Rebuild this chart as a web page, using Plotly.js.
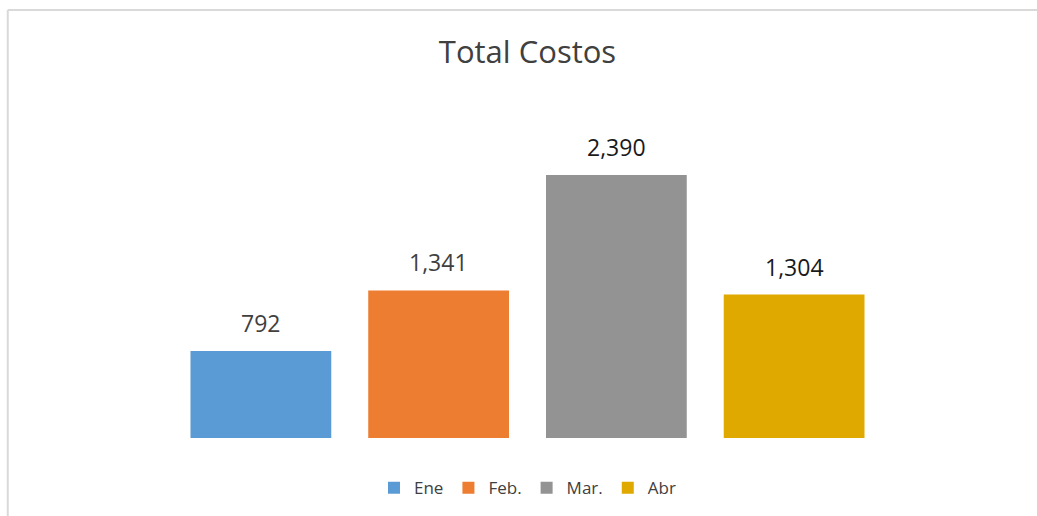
<!DOCTYPE html>
<html>
<head>
<meta charset="utf-8">
<script src="https://cdn.plot.ly/plotly-3.0.1.min.js"></script>
<style>
  html, body { margin: 0; padding: 0; background: #fff; }
  #chart { width: 1037px; height: 516px; }
</style>
</head>
<body>
<div id="chart"></div>
<script>
/* Total Costos — one bar per month, Excel-like look */

const MONTHS = ["Ene", "Feb.", "Mar.", "Abr"];
const COSTS = [792, 1341, 2390, 1304];
const COLORS = ["#5B9BD5", "#ED7D31", "#939393", "#E0A900"];
const LABEL_COLORS = ["#404040", "#404040", "#1a1a1a", "#1a1a1a"];

const FONT = "'Open Sans', 'DejaVu Sans', sans-serif";

const traces = MONTHS.map((m, i) => ({
  type: "bar",
  name: m,
  x: [m],
  y: [COSTS[i]],
  marker: { color: COLORS[i] },
  hoverinfo: "name+y"
}));

// value labels sit above each bar
const labels = MONTHS.map((m, i) => ({
  x: m,
  y: COSTS[i],
  xref: "x",
  yref: "y",
  text: COSTS[i].toLocaleString("en-US"),
  showarrow: false,
  yanchor: "bottom",
  yshift: 10,
  font: { family: FONT, size: 23, color: LABEL_COLORS[i] }
}));

// grey frame lines (top and left) like the Excel chart border
const frame = [
  { type: "line", xref: "paper", yref: "paper", x0: -0.231, x1: 1.3, y0: 1.390, y1: 1.390,
    line: { color: "#d9d9d9", width: 2 } },
  { type: "line", xref: "paper", yref: "paper", x0: -0.231, x1: -0.231, y0: 1.390, y1: -0.4,
    line: { color: "#d9d9d9", width: 2 } }
];

const layout = {
  width: 1037,
  height: 516,
  margin: { l: 171.5, r: 153.5, t: 130, b: 78 },
  paper_bgcolor: "#fff",
  plot_bgcolor: "#fff",
  font: { family: FONT, color: "#404040" },
  title: {
    text: "Total Costos",
    font: { family: FONT, size: 31, color: "#404040" },
    xref: "paper", x: 0.5, xanchor: "center",
    yref: "container", y: 0.899, yanchor: "middle"
  },
  barmode: "overlay",
  bargap: 0.208,
  xaxis: {
    type: "category",
    range: [-0.5, 3.5],
    showticklabels: false, showgrid: false, zeroline: false, showline: false, ticks: ""
  },
  yaxis: {
    range: [0, 2800],
    showticklabels: false, showgrid: false, zeroline: false, showline: false, ticks: ""
  },
  showlegend: true,
  legend: {
    orientation: "h",
    xref: "paper", x: 0.5, xanchor: "center",
    yref: "container", y: 0.054, yanchor: "middle",
    font: { family: FONT, size: 17, color: "#404040" },
    itemclick: false
  },
  annotations: labels,
  shapes: frame
};

Plotly.newPlot("chart", traces, layout, { displayModeBar: false, staticPlot: true });
</script>
</body>
</html>
